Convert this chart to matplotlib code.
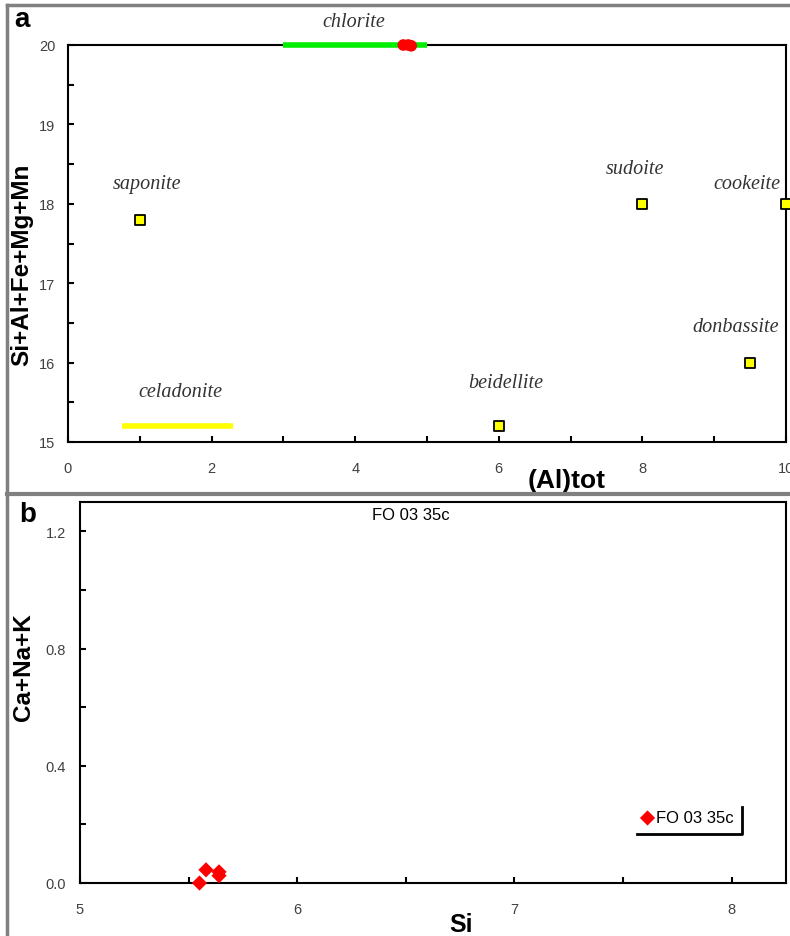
import matplotlib.pyplot as plt
from matplotlib.lines import Line2D
import numpy as np

plt.rcParams['font.family'] = ['Liberation Sans', 'DejaVu Sans']

# panel a: reference minerals
min_names = ['saponite', 'sudoite', 'cookeite', 'donbassite', 'beidellite']
min_al = [1.0, 8.0, 10.0, 9.5, 6.0]
min_sum = [17.8, 18.0, 18.0, 16.0, 15.2]
lbl_al = [1.1, 7.9, 9.45, 9.3, 6.1]
lbl_sum = [18.25, 18.45, 18.25, 16.45, 15.75]

# ranges drawn as bars
cel_range = [0.75, 2.3]
cel_sum = 15.2
chl_range = [3.0, 5.0]
chl_sum = 20.0

# analysed sample
samp_al = [4.67, 4.74, 4.78]
samp_sum = [20.0, 20.0, 19.99]

# panel b: sample
samp_si = [5.55, 5.58, 5.64, 5.64]
samp_cnk = [0.0, 0.045, 0.038, 0.025]
sample_name = 'FO 03 35c'

W, H = 790, 937
fig = plt.figure(figsize=(W / 100, H / 100), dpi=100)

# gray frame around panels
gray = '#808080'
fig.add_artist(Line2D([7 / W, 7 / W], [0, 1 - 6 / H], color=gray, lw=2.5, transform=fig.transFigure))
fig.add_artist(Line2D([7 / W, 1], [1 - 6 / H, 1 - 6 / H], color=gray, lw=2.5, transform=fig.transFigure))
fig.add_artist(Line2D([7 / W, 1], [1 - 495 / H, 1 - 495 / H], color=gray, lw=3, transform=fig.transFigure))

tick_col = '#404040'
lab_col = '#333333'

# ---- panel a
ax = fig.add_axes([68 / W, 1 - 443 / H, (786 - 68) / W, (443 - 46) / H])
ax.set_xlim(0, 10)
ax.set_ylim(15, 20)
ax.plot(cel_range, [cel_sum, cel_sum], color='#ffff00', lw=4, solid_capstyle='butt', clip_on=False)
ax.plot(chl_range, [chl_sum, chl_sum], color='#00ee00', lw=4, solid_capstyle='butt', clip_on=False, zorder=3)
ax.scatter(min_al, min_sum, marker='s', s=60, c='#ffff00', edgecolors='black', linewidths=1.3, zorder=4, clip_on=False)
ax.scatter(samp_al, samp_sum, marker='o', s=70, c='red', edgecolors='none', zorder=5, clip_on=False)
for n, x, y in zip(min_names, lbl_al, lbl_sum):
    ax.text(x, y, n, ha='center', va='center', family='Liberation Serif', style='italic', fontsize=14.5, color=lab_col)
ax.text(3.98, 20.3, 'chlorite', ha='center', va='center', family='Liberation Serif', style='italic', fontsize=14.5, color=lab_col)
ax.text(1.57, 15.64, 'celadonite', ha='center', va='center', family='Liberation Serif', style='italic', fontsize=14.5, color=lab_col)
ax.set_xticks(np.arange(0, 11, 2))
ax.set_xticks(np.arange(1, 10, 2), minor=True)
ax.set_yticks(np.arange(15, 21, 1))
ax.set_yticks(np.arange(15.5, 20, 1), minor=True)
ax.tick_params(which='both', direction='in', length=4, width=1.5, top=False, right=False,
               labelsize=10.5, labelcolor=tick_col)
ax.tick_params(axis='x', which='major', pad=14)
ax.tick_params(axis='y', which='major', pad=9)
for s in ax.spines.values():
    s.set_linewidth(1.5)
ax.set_xlabel('(Al)tot', fontsize=19, fontweight='bold')
ax.xaxis.set_label_coords(0.695, -0.066)
ax.set_ylabel('Si+Al+Fe+Mg+Mn', fontsize=17.5, fontweight='bold')
ax.yaxis.set_label_coords(-0.049, 0.448)
fig.text(22 / W, 1 - 20 / H, 'a', fontsize=20, fontweight='bold', ha='center', va='center')

# ---- panel b
bx = fig.add_axes([80 / W, 1 - 884 / H, (786 - 80) / W, (884 - 503) / H])
bx.set_xlim(5, 8.25)
bx.set_ylim(0, 1.3)
bx.scatter(samp_si, samp_cnk, marker='D', s=60, c='red', edgecolors='none', zorder=5, clip_on=False,
           label=sample_name)
bx.set_xticks([5, 6, 7, 8])
bx.set_xticks([5.5, 6.5, 7.5], minor=True)
bx.set_yticks([0.0, 0.4, 0.8, 1.2])
bx.set_yticks([0.2, 0.6, 1.0], minor=True)
bx.yaxis.set_major_formatter(plt.FormatStrFormatter('%.1f'))
bx.tick_params(which='both', direction='in', length=4, width=1.5, top=False, right=False,
               labelsize=10.5, labelcolor=tick_col)
bx.tick_params(axis='x', which='major', pad=14)
bx.tick_params(axis='y', which='major', pad=10)
for s in bx.spines.values():
    s.set_linewidth(1.5)
bx.set_xlabel('Si', fontsize=18, fontweight='bold')
bx.xaxis.set_label_coords(0.54, -0.076)
bx.set_ylabel('Ca+Na+K', fontsize=17.5, fontweight='bold')
bx.yaxis.set_label_coords(-0.064, 0.57)
bx.text(0.468, 0.968, sample_name, transform=bx.transAxes, ha='center', va='center', fontsize=12)
leg = bx.legend(loc='center left', bbox_to_anchor=(0.795, 0.171), frameon=False, fontsize=12,
                handletextpad=0.15, handlelength=0.75, borderpad=0.0, borderaxespad=0.0)
# shadow-style frame: right and bottom edges only
bx.plot([0.789, 0.938, 0.938], [0.128, 0.128, 0.2], color='black', lw=2, transform=bx.transAxes, clip_on=False)
fig.text(28 / W, 1 - 515 / H, 'b', fontsize=20, fontweight='bold', ha='center', va='center')

fig.savefig('out.png', dpi=100)
